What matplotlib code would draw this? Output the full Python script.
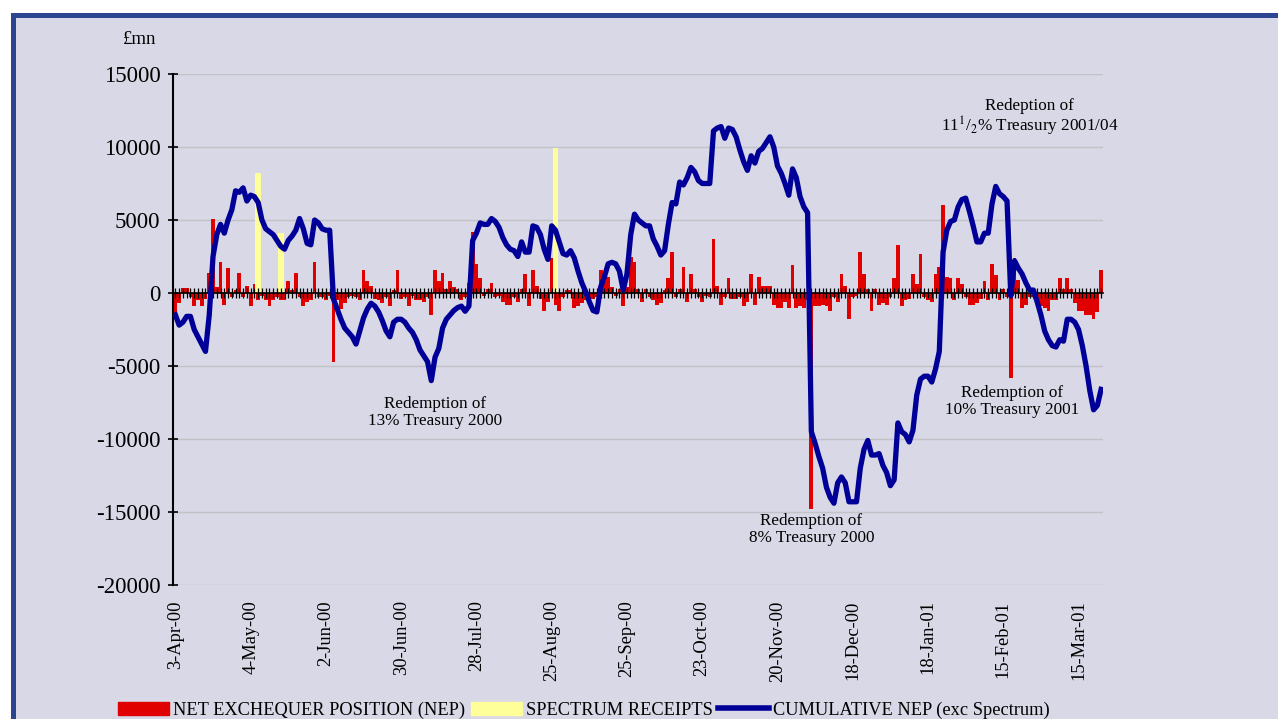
import numpy as np
import pandas as pd
import matplotlib
matplotlib.use("Agg")
import matplotlib.pyplot as plt
from matplotlib.patches import Rectangle, Patch
from matplotlib.lines import Line2D

plt.rcParams['font.family'] = ['Liberation Serif', 'DejaVu Serif']
plt.rcParams['mathtext.fontset'] = 'stix'
plt.rcParams['axes.unicode_minus'] = False

# UK business days, April 2000 - March 2001
holidays = ['2000-04-21', '2000-04-24', '2000-05-01', '2000-05-29', '2000-08-28',
            '2000-12-25', '2000-12-26', '2001-01-01']
days = pd.bdate_range('2000-04-03', periods=247, freq='C', holidays=holidays)

# daily net exchequer position, £mn
nep = [
    -1400, -700, 350, 350, -300, -900, -500, -900, -400, 1400,
    5100, 400, 2100, -800, 1700, -300, 200, 1400, -300, 500,
    -900, 650, -500, -200, -500, -900, -500, -300, -500, -500,
    800, 200, 1400, -300, -900, -600, -500, 2100, -300, -300,
    -500, -200, -4700, -500, -1100, -700, -300, -200, -300, -500,
    1600, 800, 500, -400, -500, -700, -300, -900, 200, 1600,
    -400, -300, -900, -200, -500, -500, -600, -300, -1500, 1600,
    800, 1400, 300, 800, 400, 300, -500, -300, 700, 4200,
    2000, 1000, -200, 300, 700, -300, -200, -600, -800, -800,
    -300, -600, 300, 1300, -900, 1600, 500, -400, -1200, -600,
    2400, -800, -1200, -300, 200, 200, -1000, -900, -700, -500,
    -600, -400, -300, 1600, 800, 1100, 400, -200, 300, -900,
    400, 2500, 2100, 300, -600, 300, -300, -500, -800, -700,
    200, 1000, 2800, -300, 300, 1800, -600, 1300, 300, -300,
    -600, -200, -300, 3700, 500, -800, -300, 1000, -400, -400,
    -300, -900, -600, 1300, -800, 1100, 500, 500, 500, -800,
    -1000, -1000, -600, -1000, 1900, -1000, -900, -1000, -500, -14800,
    -900, -900, -800, -900, -1200, -300, -600, 1300, 500, -1800,
    -300, -200, 2800, 1300, 300, -1200, 300, -800, -700, -800,
    -300, 1000, 3300, -900, -500, -400, 1300, 600, 2700, -300,
    -500, -600, 1300, 1800, 6000, 1100, 1000, -500, 1000, 600,
    -300, -800, -800, -700, -400, 800, -500, 2000, 1200, -500,
    300, -300, -5800, 2400, 900, -1000, -800, -300, -300, -500,
    -900, -1000, -1200, -500, -500, 1000, 300, 1000, 300, -700,
    -1200, -1200, -1500, -1500, -1800, -1300, 1600,
]

# cumulative NEP excluding spectrum receipts, £mn
cum_nep = [
    -1500, -2200, -2000, -1600, -1600, -2500, -3000, -3500, -4000, -1500,
    2500, 4000, 4700, 4100, 5000, 5700, 7000, 6900, 7200, 6300,
    6700, 6600, 6200, 5000, 4400, 4200, 4000, 3600, 3200, 3000,
    3600, 3900, 4300, 5100, 4400, 3400, 3300, 5000, 4800, 4400,
    4300, 4300, -400, -1100, -1800, -2400, -2700, -3000, -3500, -2600,
    -1700, -1100, -700, -900, -1300, -1900, -2600, -3000, -2000, -1800,
    -1800, -2000, -2400, -2700, -3200, -3900, -4300, -4700, -6000, -4400,
    -3800, -2400, -1800, -1500, -1200, -1000, -900, -1250, -900, 3600,
    4100, 4800, 4700, 4700, 5100, 4900, 4500, 3800, 3300, 3000,
    2900, 2500, 3500, 2800, 2800, 4600, 4500, 4000, 3000, 2300,
    4600, 4300, 3500, 2700, 2600, 2900, 2400, 1500, 700, 100,
    -600, -1200, -1300, 400, 1100, 2000, 2100, 2000, 1500, 200,
    1300, 4000, 5400, 5000, 4800, 4600, 4600, 3700, 3200, 2600,
    2900, 4700, 6200, 6100, 7600, 7400, 7900, 8600, 8300, 7700,
    7500, 7500, 7500, 11100, 11300, 11400, 10600, 11300, 11200, 10700,
    9800, 9000, 8400, 9400, 8900, 9700, 9900, 10300, 10700, 10000,
    8700, 8200, 7500, 6700, 8500, 7900, 6600, 5900, 5500, -9500,
    -10300, -11200, -12000, -13300, -14000, -14400, -13000, -12600, -13000, -14300,
    -14300, -14300, -12000, -10700, -10100, -11100, -11100, -11000, -11800, -12300,
    -13200, -12800, -8900, -9500, -9700, -10200, -9400, -7000, -5900, -5700,
    -5700, -6100, -5200, -4000, 2800, 4300, 4900, 5000, 5900, 6400,
    6500, 5600, 4600, 3500, 3500, 4100, 4100, 6100, 7300, 6800,
    6600, 6300, -200, 2200, 1700, 1300, 700, 200, 200, -600,
    -1500, -2600, -3200, -3600, -3700, -3200, -3300, -1800, -1800, -2000,
    -2500, -3600, -5000, -6700, -8000, -7700, -6600,
]

spectrum_dates = ['2000-05-08', '2000-05-16', '2000-08-29']
spectrum = [8200, 4100, 9900]

x = np.arange(len(days))
spec_x = [days.get_loc(pd.Timestamp(d)) for d in spectrum_dates]

W, H = 1278, 719
fig = plt.figure(figsize=(W / 100, H / 100), dpi=100)
fig.patch.set_facecolor('white')
bg = '#D8D8E7'
fig.add_artist(Rectangle((12.5 / W, -0.05), 1.1, 1 - 14.5 / H + 0.05, transform=fig.transFigure,
                         facecolor=bg, edgecolor='#2B4590', linewidth=3.6, zorder=0))

ax = fig.add_axes([173.5 / W, 1 - 585 / H, (1103 - 173.5) / W, (585 - 74) / H])
ax.set_facecolor('none')

yticks = list(range(-20000, 15001, 5000))
for v in yticks:
    ax.axhline(v, color='#C2C2C8', lw=1, zorder=0.5)

ax.bar(x, nep, width=1.0, color='#E00000', zorder=1)
ax.bar(spec_x, spectrum, width=1.5, color='#FFFF99', zorder=1.2)
ax.plot(x, cum_nep, color='#000099', lw=3.8, zorder=3, solid_joinstyle='round')

ax.set_xlim(-0.5, len(days) - 0.5)
ax.set_ylim(-20000, 15000)
ax.spines['bottom'].set_position(('data', 0))
ax.spines['top'].set_visible(False)
ax.spines['right'].set_visible(False)
ax.spines['left'].set_linewidth(1.5)
ax.spines['bottom'].set_linewidth(1.2)
ax.set_xticks(x)
ax.tick_params(axis='x', direction='inout', length=7, width=0.9, labelbottom=False)
ax.set_yticks(yticks)
ax.tick_params(axis='y', direction='inout', length=7, width=1.2, labelsize=16.5, pad=6)

# date labels every 20 business days, below the plot
for i in range(0, len(days), 20):
    d = days[i]
    ax.annotate(f"{d.day}-{d.strftime('%b-%y')}", xy=(i, 0), xycoords=('data', 'axes fraction'),
                xytext=(0, -11), textcoords='offset points', rotation=90,
                ha='center', va='top', fontsize=13.3)

fig.text(140 / W, 1 - 40 / H, '£mn', ha='center', va='center', fontsize=13.5)

note = dict(ha='center', va='center', fontsize=12.3, linespacing=1.05)
ax.text(69, -8200, 'Redemption of\n13% Treasury 2000', **note)
ax.text(169, -16200, 'Redemption of\n8% Treasury 2000', **note)
ax.text(222.3, -7450, 'Redemption of\n10% Treasury 2001', **note)
ax.text(227, 12000, 'Redeption of\n11$^{1}$/$_{2}$% Treasury 2001/04', **note)

handles = [Patch(color='#E00000'), Patch(color='#FFFF99'), Line2D([], [], color='#000099', lw=4)]
labels = ['NET EXCHEQUER POSITION (NEP)', 'SPECTRUM RECEIPTS', 'CUMULATIVE NEP (exc Spectrum)']
fig.legend(handles, labels, loc='center left', bbox_to_anchor=(118 / W, 9 / H), ncol=3,
           frameon=False, fontsize=13.2, handlelength=2.8, handletextpad=0.2,
           columnspacing=0.3, borderpad=0, borderaxespad=0)

fig.savefig('out.png', dpi=100, facecolor=fig.get_facecolor())
